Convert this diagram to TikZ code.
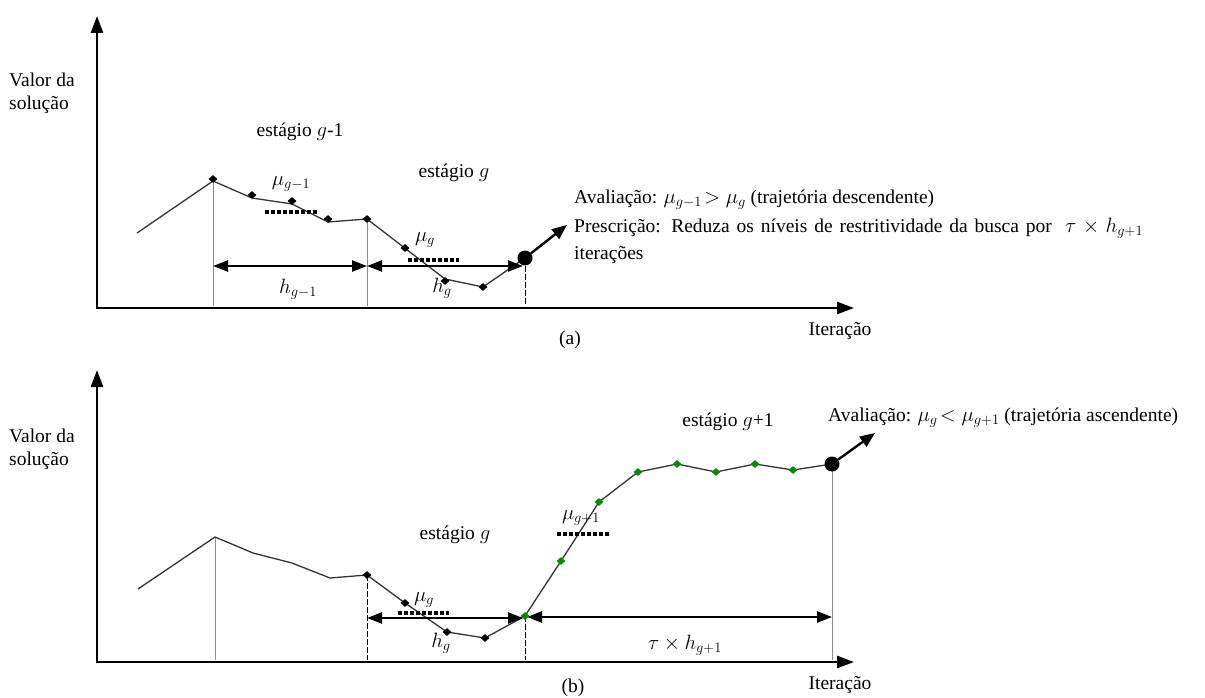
\documentclass[tikz,border=0pt]{standalone}
\usepackage{fontspec}
\setmainfont{Liberation Serif}
\usetikzlibrary{arrows.meta,shapes.geometric}
\begin{document}
\begin{tikzpicture}[x=1pt,y=-1pt,
  lbl/.style={font=\fontsize{19.5}{23}\selectfont, inner sep=0pt},
  axisline/.style={line width=2.6pt, line join=miter, {Triangle[length=17pt,width=12pt]}-{Triangle[length=17pt,width=12pt]}},
  curve/.style={line width=1.3pt, black!80},
  dia/.style={diamond, fill=black, inner sep=0pt, minimum width=9pt, minimum height=8pt},
  gdia/.style={diamond, fill=green!55!black, inner sep=0pt, minimum width=9pt, minimum height=8pt},
  bigdot/.style={circle, fill=black, inner sep=0pt, minimum size=15pt},
  guide/.style={line width=0.6pt, black!45},
  dguide/.style={line width=0.8pt, black, dash pattern=on 6pt off 2pt},
  spanarrow/.style={line width=2.4pt, {Triangle[length=15pt,width=11pt]}-{Triangle[length=15pt,width=11pt]}},
  meanline/.style={line width=3.2pt, dash pattern=on 3.5pt off 2.5pt},
  outarrow/.style={line width=2.4pt, -{Triangle[length=15pt,width=12pt]}}
]
\useasboundingbox (0,0) rectangle (1205,698);

% ================= panel (a) =================
\coordinate (aytop) at (97,16);
\coordinate (aorig) at (97,308);
\coordinate (axend) at (854,308);
\draw[axisline] (aytop) -- (aorig) -- (axend);

\node[lbl, align=left, anchor=west] (avalor) at (9,93) {Valor da\\solução};
\node[lbl] (ast1) at (300,132) {estágio $g$-1};
\node[lbl] (ast2) at (454,173) {estágio $g$};

\coordinate (a0) at (137,233);
\coordinate (a1) at (213,181);
\coordinate (a2) at (252,198);
\coordinate (a3) at (292,204);
\coordinate (a4) at (328,222);
\coordinate (a5) at (367,219);
\coordinate (a7) at (445,279);
\coordinate (a8) at (483,287);
\coordinate (a9) at (525,258);

% guides
\coordinate (a1b) at (213,306);
\coordinate (a5b) at (367,306);
\coordinate (a9b) at (525,306);
\draw[guide] (a1) -- (a1b);
\draw[guide] (a5) -- (a5b);
\draw[dguide] (a9) -- (a9b);

\draw[curve] (a0) -- (a1) -- (a2) -- (a3) -- (a4) -- (a5) -- (a7) -- (a8) -- (a9);

\node[dia] (ad1) at (213,179) {};
\node[dia] (ad2) at (252,195) {};
\node[dia] (ad3) at (292,201) {};
\node[dia] (ad4) at (328,219) {};
\node[dia] (ad5) at (367,219) {};
\node[dia] (ad6) at (405,248) {};
\node[dia] (ad7) at (445,281) {};
\node[dia] (ad8) at (483,287) {};
\node[bigdot] (abig) at (a9) {};

% means
\coordinate (am1s) at (265,212);
\coordinate (am1e) at (317,212);
\draw[meanline] (am1s) -- (am1e);
\node[lbl] (amu1) at (291,184) {$\mu_{g-1}$};
\coordinate (am2s) at (408,260);
\coordinate (am2e) at (459,260);
\draw[meanline] (am2s) -- (am2e);
\node[lbl] (amu2) at (425,240) {$\mu_g$};

% spans
\coordinate (asp1) at (213,266);
\coordinate (asp2) at (367,266);
\coordinate (asp3) at (523,266);
\draw[spanarrow] (asp1) -- (asp2);
\draw[spanarrow] (asp2) -- (asp3);
\node[lbl] (ah1) at (298,289) {$h_{g-1}$};
\node[lbl] (ah2) at (442,288) {$h_g$};

% outgoing arrow and text
\coordinate (aout) at (567,225);
\draw[outarrow] (abig) -- (aout);
\node[lbl, anchor=base west] (aaval) at (574,203) {Avaliação: $\mu_{g-1}\!>\mu_g$ (trajetória descendente)};
\node[lbl, anchor=base west] (apres) at (574,232) {\makebox[569pt][s]{Prescrição: Reduza os níveis de restritividade da busca por\ \ $\tau\times h_{g+1}$}};
\node[lbl, anchor=base west] (aiter) at (574,259) {iterações};

\node[lbl] (alab) at (570,340) {(a)};
\node[lbl] (aitx) at (840,331) {Iteração};

% ================= panel (b) =================
\coordinate (bytop) at (97,370);
\coordinate (borig) at (97,662);
\coordinate (bxend) at (854,662);
\draw[axisline] (bytop) -- (borig) -- (bxend);

\node[lbl, align=left, anchor=west] (bvalor) at (9,449) {Valor da\\solução};
\node[lbl] (bst1) at (455,535) {estágio $g$};
\node[lbl] (bst2) at (728,422) {estágio $g$+1};

\coordinate (b0) at (138,589);
\coordinate (b1) at (215,537);
\coordinate (b2) at (253,553);
\coordinate (b3) at (292,563);
\coordinate (b4) at (330,578);
\coordinate (b5) at (367,575);
\coordinate (b6) at (405,603);
\coordinate (b7) at (447,632);
\coordinate (b8) at (485,638);
\coordinate (b9) at (525,616);
\coordinate (b10) at (561,561);
\coordinate (b11) at (599,502);
\coordinate (b12) at (638,472);
\coordinate (b13) at (677,464);
\coordinate (b14) at (716,472);
\coordinate (b15) at (755,464);
\coordinate (b16) at (793,470);
\coordinate (b17) at (832,464);

% guides
\coordinate (b1b) at (215,660);
\coordinate (b5b) at (367,660);
\coordinate (b9b) at (525,660);
\coordinate (b17b) at (832,660);
\draw[guide] (b1) -- (b1b);
\draw[dguide] (b5) -- (b5b);
\draw[dguide] (b9) -- (b9b);
\draw[guide] (b17) -- (b17b);

\draw[curve] (b0) -- (b1) -- (b2) -- (b3) -- (b4) -- (b5) -- (b6) -- (b7) -- (b8) -- (b9) -- (b10) -- (b11) -- (b12) -- (b13) -- (b14) -- (b15) -- (b16) -- (b17);

\node[dia] (bd5) at (b5) {};
\node[dia] (bd6) at (b6) {};
\node[dia] (bd7) at (b7) {};
\node[dia] (bd8) at (b8) {};

% means
\coordinate (bm1s) at (398,613);
\coordinate (bm1e) at (449,613);
\draw[meanline] (bm1s) -- (bm1e);
\node[lbl] (bmu1) at (424,600) {$\mu_g$};
\coordinate (bm2s) at (557,534);
\coordinate (bm2e) at (609,534);
\draw[meanline] (bm2s) -- (bm2e);
\node[lbl] (bmu2) at (581,518) {$\mu_{g+1}$};

% spans
\coordinate (bsp1) at (367,618);
\coordinate (bsp2) at (523,618);
\coordinate (bsp3) at (527,617);
\coordinate (bsp4) at (832,617);
\draw[spanarrow] (bsp1) -- (bsp2);
\draw[spanarrow] (bsp3) -- (bsp4);
\node[lbl] (bh1) at (441,643) {$h_g$};
\node[lbl] (bh2) at (685,645) {$\tau\times h_{g+1}$};

\node[gdia] (bd9) at (b9) {};
\node[gdia] (bd10) at (b10) {};
\node[gdia] (bd11) at (b11) {};
\node[gdia] (bd12) at (b12) {};
\node[gdia] (bd13) at (b13) {};
\node[gdia] (bd14) at (b14) {};
\node[gdia] (bd15) at (b15) {};
\node[gdia] (bd16) at (b16) {};
\node[bigdot] (bbig) at (b17) {};

\coordinate (bout) at (875,433);
\draw[outarrow] (bbig) -- (bout);
\node[lbl, anchor=base west] (baval) at (828,421) {Avaliação: $\mu_g\!<\mu_{g+1}$ (trajetória ascendente)};

\node[lbl] (blab) at (573,688) {(b)};
\node[lbl] (bitx) at (840,685) {Iteração};
\end{tikzpicture}
\end{document}
